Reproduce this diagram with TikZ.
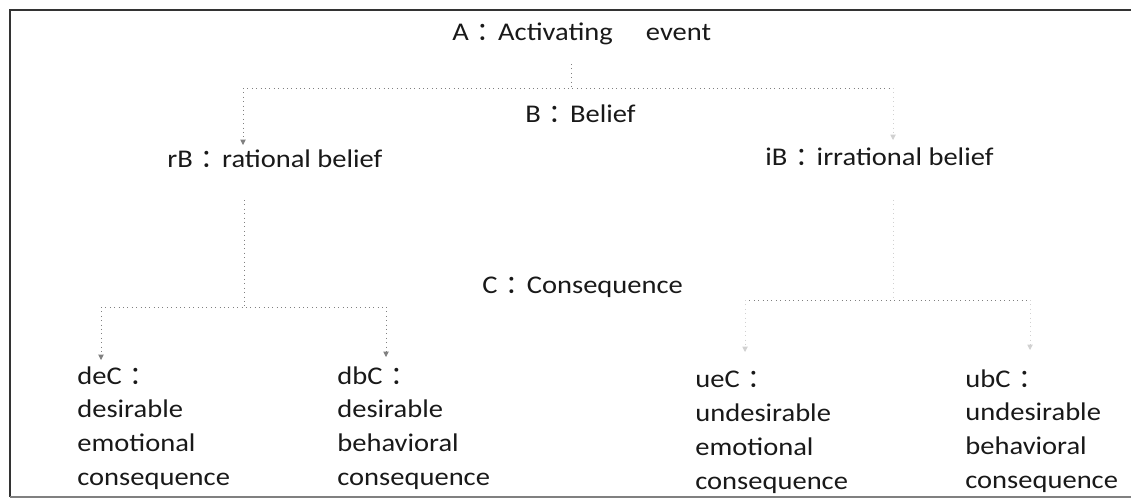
\documentclass[tikz,border=0pt]{standalone}
\usepackage{fontspec}
\setmainfont{Carlito}[FakeStretch=1.12]
\newfontfamily\cjk{Noto Sans CJK SC}
\usetikzlibrary{arrows.meta}
\newcommand{\fc}{\hspace{0.3em}{\cjk ：}\hspace{-0.15em}}
\tikzset{
  lbl/.style={anchor=base west, inner sep=0pt, text=black!90, font=\fontsize{14.5pt}{19.3pt}\selectfont},
  blk/.style={lbl, align=left, anchor=north west},
  conn/.style={draw=black!50, line width=0.5pt, dotted},
  faint/.style={draw=black!18, line width=0.5pt, dotted},
  tip/.style={-{Triangle[length=3pt,width=3pt]}}
}
\begin{document}
\begin{tikzpicture}[x=0.02cm,y=-0.02cm]
\useasboundingbox (0,0) rectangle (1131,498);
% frame
\draw[black!80, line width=1.2pt] (1140,10) -- (10,10) -- (10,497);
\draw[black!50, line width=0.8pt] (10,497) -- (1140,497);
% texts
\node[lbl] (A) at (452,40) {A\fc Activating\hspace{1.3em}event};
\node[lbl] (B) at (525,122) {B\fc Belief};
\node[lbl] (rB) at (167,167) {rB\fc rational belief};
\node[lbl] (iB) at (765,165) {iB\fc irrational belief};
\node[lbl] (C) at (482,293) {C\fc Consequence};
\node[blk] (deC) at (77,366) {deC\fc\\desirable\\emotional\\consequence};
\node[blk] (dbC) at (337,366) {dbC\fc\\desirable\\behavioral\\consequence};
\node[blk] (ueC) at (695,371) {ueC\fc\\undesirable\\emotional\\consequence};
\node[blk] (ubC) at (965,369) {ubC\fc\\undesirable\\behavioral\\consequence};
% junction coordinates
\coordinate (a0) at (571,64);
\coordinate (a1) at (571,88);
\coordinate (aL) at (243,88);
\coordinate (aR) at (893,88);
\coordinate (tRB) at (243,145);
\coordinate (tIB) at (893,140);
\coordinate (r0) at (244,200);
\coordinate (r1) at (244,307);
\coordinate (rL) at (101,307);
\coordinate (rR) at (386,307);
\coordinate (tdeC) at (101,360);
\coordinate (tdbC) at (386,357);
\coordinate (i0) at (893,200);
\coordinate (i1) at (893,300);
\coordinate (iL) at (745,300);
\coordinate (iR) at (1030,300);
\coordinate (tueC) at (745,352);
\coordinate (tubC) at (1030,350);
% connectors
\draw[conn] (a0) -- (a1);
\draw[conn] (aL) -- (aR);
\draw[conn,tip] (aL) -- (tRB);
\draw[faint,tip] (aR) -- (tIB);
\draw[conn] (r0) -- (r1);
\draw[conn] (rL) -- (rR);
\draw[conn,tip] (rL) -- (tdeC);
\draw[conn,tip] (rR) -- (tdbC);
\draw[faint] (i0) -- (i1);
\draw[conn] (iL) -- (iR);
\draw[faint,tip] (iL) -- (tueC);
\draw[faint,tip] (iR) -- (tubC);
\end{tikzpicture}
\end{document}
